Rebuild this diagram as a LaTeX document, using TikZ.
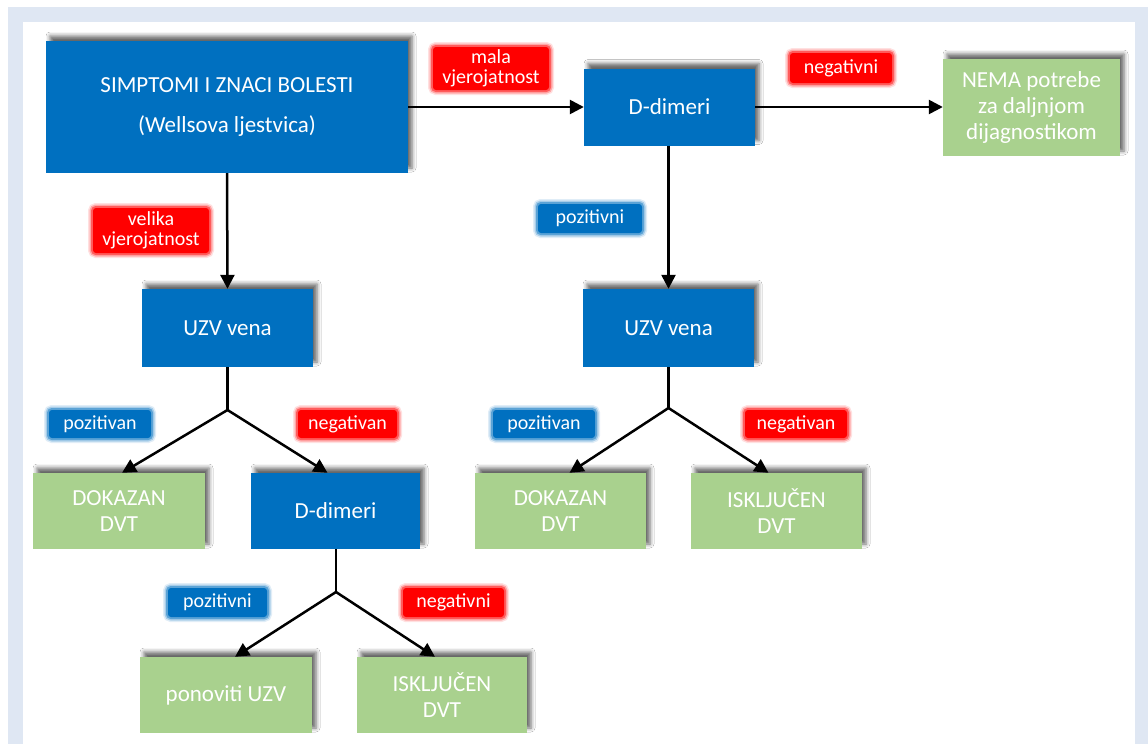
\documentclass[tikz,border=0pt]{standalone}
\usepackage{fontspec}
\setmainfont{Carlito}
\usetikzlibrary{shadows.blur,arrows.meta,calc}
\definecolor{boxblue}{HTML}{0070C0}
\definecolor{boxgreen}{HTML}{A9D18E}
\definecolor{lblred}{HTML}{FF0000}
\definecolor{framebg}{HTML}{DFE7F3}
\tikzset{
  boxbase/.style={inner sep=0pt, align=center, text=white,
    font=\fontsize{23}{26}\selectfont,
    blur shadow={shadow xshift=4pt, shadow yshift=5pt, shadow blur radius=4pt, shadow opacity=60}},
  bluebox/.style={boxbase, fill=boxblue},
  greenbox/.style={boxbase, fill=boxgreen},
  glowlabel/.style={inner sep=0pt, align=center, text=white, rounded corners=3pt,
    font=\fontsize{20}{20}\selectfont, fill=#1,
    preaction={draw=#1, line width=10pt, opacity=0.12},
    preaction={draw=#1, line width=7pt, opacity=0.25},
    preaction={draw=#1, line width=4pt, opacity=0.45}},
  conn/.style={line width=2.5pt, draw=black},
  arr/.style={conn, -{Triangle[length=14pt,width=14pt]}},
}
\begin{document}
\begin{tikzpicture}[x=1pt,y=-1pt]
\useasboundingbox (0,0) rectangle (1148,744);
\fill[white] (0,0) rectangle (1148,744);
\fill[framebg] (8,7) rectangle (1148,744);
\fill[white] (23,22) rectangle (1135,744);

% boxes
\node[bluebox, minimum width=362pt, minimum height=132pt] (sym) at (227,107)
  {SIMPTOMI I ZNACI BOLESTI\\[14pt](Wellsova ljestvica)};
\node[bluebox, minimum width=171pt, minimum height=77pt] (dd1) at (669.5,107) {D-dimeri};
\node[greenbox, minimum width=177pt, minimum height=97pt] (nema) at (1031.5,107.5)
  {NEMA potrebe\\za daljnjom\\dijagnostikom};
\node[bluebox, minimum width=171pt, minimum height=78pt] (uzv1) at (227.5,328) {UZV vena};
\node[bluebox, minimum width=171pt, minimum height=78pt] (uzv2) at (668.5,328) {UZV vena};
\node[greenbox, minimum width=172pt, minimum height=76pt] (dok1) at (119,511) {DOKAZAN\\DVT};
\node[bluebox, minimum width=169pt, minimum height=76pt] (dd2) at (335.5,511) {D-dimeri};
\node[greenbox, minimum width=171pt, minimum height=76pt] (dok2) at (560.5,511) {DOKAZAN\\DVT};
\node[greenbox, minimum width=171pt, minimum height=76pt] (isk2) at (776.5,511) {ISKLJUČEN\\DVT};
\node[greenbox, minimum width=172pt, minimum height=76pt] (pon) at (226,695) {ponoviti UZV};
\node[greenbox, minimum width=170pt, minimum height=76pt] (isk3) at (442,695) {ISKLJUČEN\\DVT};

% labels
\node[glowlabel=lblred, minimum width=116pt, minimum height=43pt] (lmala) at (491,68.5) {mala\\vjerojatnost};
\node[glowlabel=lblred, minimum width=116pt, minimum height=45pt] (lvel) at (151,230.5) {velika\\vjerojatnost};
\node[glowlabel=lblred, minimum width=102pt, minimum height=30pt] (lneg1) at (841,68) {negativni};
\node[glowlabel=boxblue, minimum width=104pt, minimum height=29pt] (lpoz1) at (590,218.5) {pozitivni};
\node[glowlabel=boxblue, minimum width=102pt, minimum height=28pt] (lpv1) at (100,424) {pozitivan};
\node[glowlabel=lblred, minimum width=99pt, minimum height=28pt] (lnv1) at (347.5,424) {negativan};
\node[glowlabel=boxblue, minimum width=102pt, minimum height=28pt] (lpv2) at (544,424) {pozitivan};
\node[glowlabel=lblred, minimum width=102pt, minimum height=28pt] (lnv2) at (796,424) {negativan};
\node[glowlabel=boxblue, minimum width=99pt, minimum height=29pt] (lpi3) at (217.5,602.5) {pozitivni};
\node[glowlabel=lblred, minimum width=101pt, minimum height=29pt] (lni3) at (453.5,602.5) {negativni};

% junctions
\coordinate (j1) at (227.5,410);
\coordinate (j2) at (668.5,408);
\coordinate (j3) at (336,592);

% connectors
\draw[arr] (sym.east) -- (sym.east -| dd1.west);
\draw[arr] (dd1.east) -- (dd1.east -| nema.west);
\draw[arr] (sym.south) -- (uzv1.north);
\draw[arr] ([xshift=-1pt]dd1.south) -- (uzv2.north);
\draw[conn] (uzv1.south) -- (j1);
\draw[arr] (j1) -- ([xshift=3pt]dok1.north);
\draw[arr] (j1) -- ([xshift=-8pt]dd2.north);
\draw[conn] (uzv2.south) -- (j2);
\draw[arr] (j2) -- ([xshift=9pt]dok2.north);
\draw[arr] (j2) -- ([xshift=-8pt]isk2.north);
\draw[conn] ([xshift=0.5pt]dd2.south) -- (j3);
\draw[arr] (j3) -- ([xshift=9pt]pon.north);
\draw[arr] (j3) -- ([xshift=-7pt]isk3.north);
\end{tikzpicture}
\end{document}
